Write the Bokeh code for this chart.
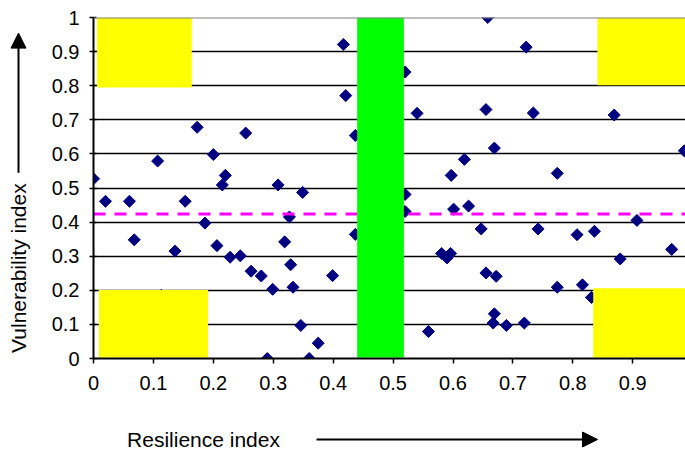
import math
from bokeh.plotting import figure
from bokeh.layouts import column, row
from bokeh.models import Arrow, NormalHead, Span, FixedTicker, ColumnDataSource, Range1d
from bokeh.core.properties import value
from bokeh.embed import file_html
from bokeh.resources import INLINE

# ---- data ----
resilience = [0.000, 0.020, 0.060, 0.153, 0.186, 0.068, 0.136, 0.206, 0.228, 0.245,
              0.263, 0.280, 0.299, 0.290, 0.360, 0.113, 0.107, 0.173, 0.200, 0.220,
              0.215, 0.254, 0.308, 0.349, 0.417, 0.421, 0.437, 0.327, 0.319, 0.329,
              0.333, 0.399, 0.346, 0.375, 0.437, 0.520, 0.540, 0.520, 0.520, 0.601,
              0.626, 0.619, 0.597, 0.647, 0.581, 0.596, 0.590, 0.559, 0.658, 0.722,
              0.655, 0.734, 0.869, 0.669, 0.986, 0.774, 0.742, 0.807, 0.836, 0.907,
              0.965, 0.879, 0.655, 0.672, 0.774, 0.816, 0.831, 0.669, 0.667, 0.689,
              0.719]
vulnerability = [0.527, 0.461, 0.461, 0.461, 0.397, 0.348, 0.315, 0.331, 0.297, 0.301,
                 0.256, 0.242, 0.203, 0.000, 0.000, 0.185, 0.579, 0.678, 0.598, 0.537,
                 0.509, 0.661, 0.509, 0.487, 0.921, 0.771, 0.654, 0.415, 0.342, 0.275,
                 0.209, 0.243, 0.097, 0.045, 0.364, 0.840, 0.719, 0.481, 0.431, 0.438,
                 0.447, 0.584, 0.537, 0.380, 0.308, 0.308, 0.295, 0.079, 1.000, 0.913,
                 0.730, 0.720, 0.714, 0.617, 0.609, 0.543, 0.380, 0.363, 0.373, 0.405,
                 0.320, 0.292, 0.251, 0.241, 0.209, 0.216, 0.179, 0.131, 0.104, 0.097,
                 0.104]

threshold = 0.424

# zones: left, right, bottom, top
yellow_left = [0.006, 0.009, 0.841, 0.834]
yellow_right = [0.164, 0.191, 1.000, 1.000]
yellow_bottom = [0.795, 0.003, 0.801, 0.003]
yellow_top = [1.000, 0.201, 1.000, 0.206]
green_left = [0.440]
green_right = [0.518]
green_bottom = [0.003]
green_top = [1.000]

x_ticks = [0, 0.1, 0.2, 0.3, 0.4, 0.5, 0.6, 0.7, 0.8, 0.9, 1.0]
x_tick_labels = ["0", "0.1", "0.2", "0.3", "0.4", "0.5", "0.6", "0.7", "0.8", "0.9", "1"]
y_ticks = [0, 0.1, 0.2, 0.3, 0.4, 0.5, 0.6, 0.7, 0.8, 0.9, 1.0]
y_tick_labels = ["0", "0.1", "0.2", "0.3", "0.4", "0.5", "0.6", "0.7", "0.8", "0.9", "1"]

x_title = "Resilience index"
y_title = "Vulnerability index"

FONT = "Liberation Sans"


def bare(fig):
    fig.axis.visible = False
    fig.grid.visible = False
    fig.outline_line_color = None
    fig.background_fill_color = "white"
    fig.border_fill_color = "white"
    return fig


# ---- main plot ----
p = figure(width=645, height=415, x_range=Range1d(0, 0.988), y_range=Range1d(0, 1),
           output_backend="svg", toolbar_location=None,
           min_border_left=53, min_border_right=0, min_border_top=17, min_border_bottom=57)
p.outline_line_color = None
p.background_fill_color = "white"
p.border_fill_color = "white"

p.xgrid.visible = False
p.ygrid.ticker = FixedTicker(ticks=y_ticks[:-1])
p.ygrid.grid_line_color = "black"
p.ygrid.grid_line_width = 1.5

p.xaxis.ticker = FixedTicker(ticks=x_ticks)
p.xaxis.major_label_overrides = {t: l for t, l in zip(x_ticks, x_tick_labels)}
p.yaxis.ticker = FixedTicker(ticks=y_ticks)
p.yaxis.major_label_overrides = {t: l for t, l in zip(y_ticks, y_tick_labels)}
for ax in (p.xaxis, p.yaxis):
    ax.axis_line_color = "black"
    ax.axis_line_width = 2
    ax.major_tick_line_color = "black"
    ax.major_tick_line_width = 1.5
    ax.minor_tick_line_color = None
    ax.major_label_text_font = FONT
    ax.major_label_text_font_size = "20px"
    ax.major_label_text_color = "black"
p.xaxis.major_tick_in = 0
p.xaxis.major_tick_out = 5
p.xaxis.major_label_standoff = 12
p.yaxis.major_tick_in = 3
p.yaxis.major_tick_out = 4
p.yaxis.major_label_standoff = 10

src = ColumnDataSource(dict(x=resilience, y=vulnerability))
p.scatter("x", "y", source=src, marker="square", size=8.5, angle=math.pi / 4,
          fill_color="#000080", line_color="#000080")

p.line([0, 1], [threshold, threshold], line_color="#FF00FF", line_width=3, line_dash="12 9")

p.quad(left=yellow_left, right=yellow_right, bottom=yellow_bottom, top=yellow_top,
       fill_color="#FFFF00", line_color=None)
p.quad(left=green_left, right=green_right, bottom=green_bottom, top=green_top,
       fill_color="#00FF00", line_color=None)

p.add_layout(Span(location=1, dimension="width", line_color="#808080", line_width=2))

# ---- left strip: y title with arrow ----
left = bare(figure(width=40, height=415, x_range=Range1d(0, 40), y_range=Range1d(415, 0),
                   output_backend="svg", toolbar_location=None,
                   min_border_left=0, min_border_right=0, min_border_top=0, min_border_bottom=0))
left.text(x=[18], y=[305], text=[y_title], angle=math.pi / 2,
          text_font=value(FONT), text_font_size="21px", text_align="center",
          text_baseline="middle", text_color="black")
left.add_layout(Arrow(x_start=18, y_start=189, x_end=18, y_end=19,
                      line_color="black", line_width=2,
                      end=NormalHead(size=15, fill_color="black", line_color="black")))

# ---- bottom strip: x title with arrow ----
bottom = bare(figure(width=685, height=35, x_range=Range1d(0, 685), y_range=Range1d(35, 0),
                     output_backend="svg", toolbar_location=None,
                     min_border_left=0, min_border_right=0, min_border_top=0, min_border_bottom=0))
bottom.text(x=[203], y=[24], text=[x_title], text_font=value(FONT), text_font_size="21px",
            text_align="center", text_baseline="middle", text_color="black")
bottom.add_layout(Arrow(x_start=316, y_start=24, x_end=597, y_end=24,
                        line_color="black", line_width=2,
                        end=NormalHead(size=15, fill_color="black", line_color="black")))

layout = column(row(left, p, spacing=0), bottom, spacing=0)

open("out.html", "w").write(file_html(layout, INLINE))
